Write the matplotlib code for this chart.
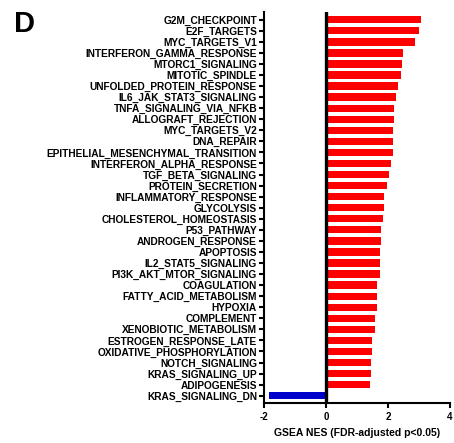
import matplotlib
matplotlib.use("Agg")
import matplotlib.pyplot as plt

plt.rcParams['font.family'] = ['Liberation Sans', 'DejaVu Sans']
plt.rcParams['font.weight'] = 'bold'

pathways = [
    "G2M_CHECKPOINT", "E2F_TARGETS", "MYC_TARGETS_V1", "INTERFERON_GAMMA_RESPONSE",
    "MTORC1_SIGNALING", "MITOTIC_SPINDLE", "UNFOLDED_PROTEIN_RESPONSE",
    "IL6_JAK_STAT3_SIGNALING", "TNFA_SIGNALING_VIA_NFKB", "ALLOGRAFT_REJECTION",
    "MYC_TARGETS_V2", "DNA_REPAIR", "EPITHELIAL_MESENCHYMAL_TRANSITION",
    "INTERFERON_ALPHA_RESPONSE", "TGF_BETA_SIGNALING", "PROTEIN_SECRETION",
    "INFLAMMATORY_RESPONSE", "GLYCOLYSIS", "CHOLESTEROL_HOMEOSTASIS", "P53_PATHWAY",
    "ANDROGEN_RESPONSE", "APOPTOSIS", "IL2_STAT5_SIGNALING", "PI3K_AKT_MTOR_SIGNALING",
    "COAGULATION", "FATTY_ACID_METABOLISM", "HYPOXIA", "COMPLEMENT",
    "XENOBIOTIC_METABOLISM", "ESTROGEN_RESPONSE_LATE", "OXIDATIVE_PHOSPHORYLATION",
    "NOTCH_SIGNALING", "KRAS_SIGNALING_UP", "ADIPOGENESIS", "KRAS_SIGNALING_DN",
]
nes = [
    3.06, 2.99, 2.87, 2.48, 2.44, 2.42, 2.33, 2.27, 2.20, 2.20,
    2.17, 2.17, 2.17, 2.09, 2.03, 1.96, 1.87, 1.86, 1.84, 1.78,
    1.76, 1.75, 1.74, 1.74, 1.63, 1.63, 1.63, 1.58, 1.58, 1.47,
    1.47, 1.46, 1.46, 1.41, -1.83,
]
x_ticks = [-2, 0, 2, 4]
x_label = "GSEA NES (FDR-adjusted p<0.05)"
panel_label = "D"

fig = plt.figure(figsize=(4.54, 4.43), dpi=100)
ax = fig.add_axes([264/454, 1-403/443, (450-264)/454, (403-12)/443])

ypos = list(range(len(pathways)))
colors = ['#ff0000' if v > 0 else '#0000cc' for v in nes]
ax.barh(ypos, nes, height=0.66, color=colors, edgecolor='none', zorder=2)
ax.axvline(0, color='black', lw=2.4, zorder=3)

ax.set_ylim(len(pathways) - 1 + 0.66, -0.7)
ax.set_xlim(-2, 4)
ax.set_xticks(x_ticks)
ax.set_xticklabels([str(t) for t in x_ticks], fontsize=7, fontweight='bold')
ax.set_yticks(ypos)
ax.set_yticklabels(pathways, fontsize=7.3, fontweight='bold')
ax.set_xlabel(x_label, fontsize=7.5, fontweight='bold', labelpad=4)

for s in ['top', 'right']:
    ax.spines[s].set_visible(False)
for s in ['left', 'bottom']:
    ax.spines[s].set_linewidth(1.5)
ax.tick_params(axis='both', width=1.5, length=3.5, direction='out', pad=1.5)
ax.tick_params(axis='x', pad=3)

fig.text(14/454, 1-32/443, panel_label, fontsize=21, fontweight='bold', ha='left', va='baseline')

fig.savefig("out.png", dpi=100)
